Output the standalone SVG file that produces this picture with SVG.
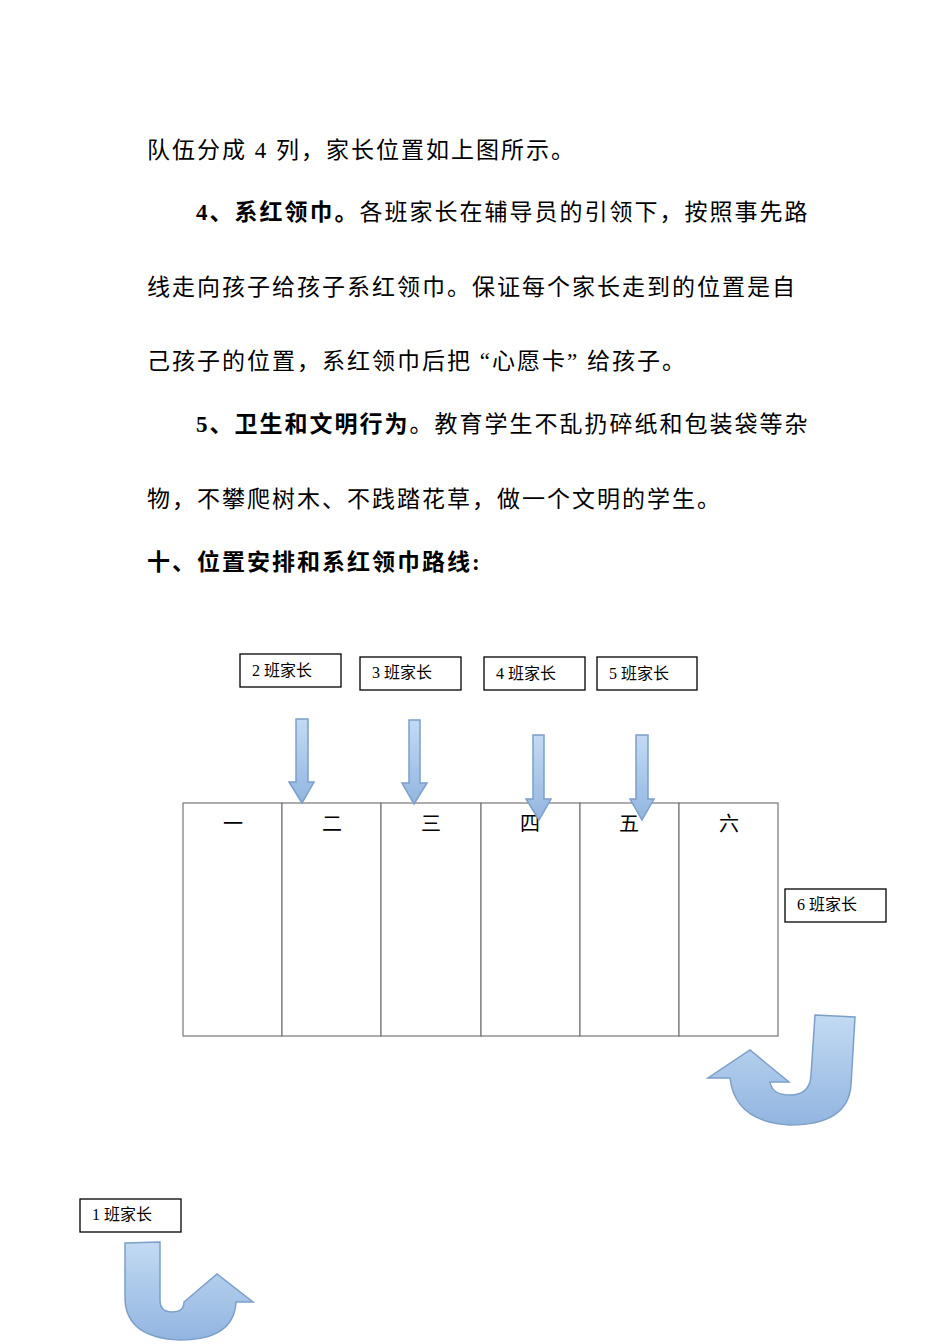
<svg xmlns="http://www.w3.org/2000/svg" width="950" height="1344" viewBox="0 0 950 1344">
<defs>
<linearGradient id="g" x1="0" y1="0" x2="0" y2="1"><stop offset="0" stop-color="#c3daf3"/><stop offset="1" stop-color="#92b5e0"/></linearGradient>
<style>
.t{font-family:"Liberation Serif","Noto Sans CJK SC",serif;font-size:23px;letter-spacing:2px;fill:#000}
.b{font-weight:bold}
.box{fill:#fff;stroke:#000;stroke-width:1.3}
.bl{font-family:"Liberation Serif","Noto Sans CJK SC",serif;font-size:16px;fill:#000}
.ar{fill:url(#g);stroke:#7c9fca;stroke-width:1.5}
.cell{fill:#fff;stroke:#777;stroke-width:1.2}
.c{font-family:"Liberation Serif","Noto Sans CJK SC",serif;font-size:20px;fill:#000;text-anchor:middle}
</style>
</defs>
<g id="text">
<text class="t" x="147" y="158">队伍分成 4 列，家长位置如上图所示。</text>
<text class="t" x="196" y="220"><tspan class="b">4、系红领巾。</tspan>各班家长在辅导员的引领下，按照事先路</text>
<text class="t" x="147" y="295">线走向孩子给孩子系红领巾。保证每个家长走到的位置是自</text>
<text class="t" x="147" y="369">己孩子的位置，系红领巾后把 “心愿卡” 给孩子。</text>
<text class="t" x="196" y="432"><tspan class="b">5、卫生和文明行为</tspan>。教育学生不乱扔碎纸和包装袋等杂</text>
<text class="t" x="147" y="507">物，不攀爬树木、不践踏花草，做一个文明的学生。</text>
<text class="t b" x="147" y="570">十、位置安排和系红领巾路线:</text>
</g>
<g id="table">
<rect class="cell" x="183" y="803" width="99" height="233"/>
<rect class="cell" x="282" y="803" width="99" height="233"/>
<rect class="cell" x="381" y="803" width="100" height="233"/>
<rect class="cell" x="481" y="803" width="99" height="233"/>
<rect class="cell" x="580" y="803" width="99" height="233"/>
<rect class="cell" x="679" y="803" width="99" height="233"/>
<text class="c" x="233" y="831">一</text><text class="c" x="332" y="831">二</text><text class="c" x="431" y="831">三</text><text class="c" x="530" y="831">四</text><text class="c" x="629" y="831">五</text><text class="c" x="729" y="831">六</text>
</g>
<g id="n2"><rect class="box" x="240" y="654" width="101" height="33"/><text class="bl" x="252" y="676">2 班家长</text></g>
<g id="n3"><rect class="box" x="360" y="657" width="101" height="33"/><text class="bl" x="372" y="678">3 班家长</text></g>
<g id="n4"><rect class="box" x="484" y="657" width="101" height="33"/><text class="bl" x="496" y="679">4 班家长</text></g>
<g id="n5"><rect class="box" x="597" y="657" width="100" height="33"/><text class="bl" x="609" y="679">5 班家长</text></g>
<g id="n6"><rect class="box" x="785" y="889" width="101" height="33"/><text class="bl" x="797" y="910">6 班家长</text></g>
<g id="n1"><rect class="box" x="80" y="1199" width="101" height="33"/><text class="bl" x="92" y="1220">1 班家长</text></g>
<g id="connectors">
<path class="ar" d="M296,719 L308,719 L308,782 L314,782 L302,803 L289,782 L296,782 Z"/>
<path class="ar" d="M409,720 L420,720 L420,783 L427,783 L414,804 L402,783 L409,783 Z"/>
<path class="ar" d="M533,735 L544,735 L544,799 L551,799 L539,820 L526,799 L533,799 Z"/>
<path class="ar" d="M636,735 L648,735 L648,799 L654,799 L642,820 L630,799 L636,799 Z"/>
<path class="ar" d="M815,1015 L855,1017 L851,1085 Q848,1125 790,1125 Q735,1122 730,1078 L708,1078 L750,1050 L789,1082 L770,1082 Q772,1095 790,1095 Q810,1095 811,1075 Z"/>
<path class="ar" d="M125,1243 L160,1242 L160,1300 Q160,1312 172,1312 Q184,1312 184,1302 L184,1302 L217,1274 L253,1302 L236,1302 Q234,1340 180,1340 Q127,1338 125,1300 Z"/>
</g>
</svg>
